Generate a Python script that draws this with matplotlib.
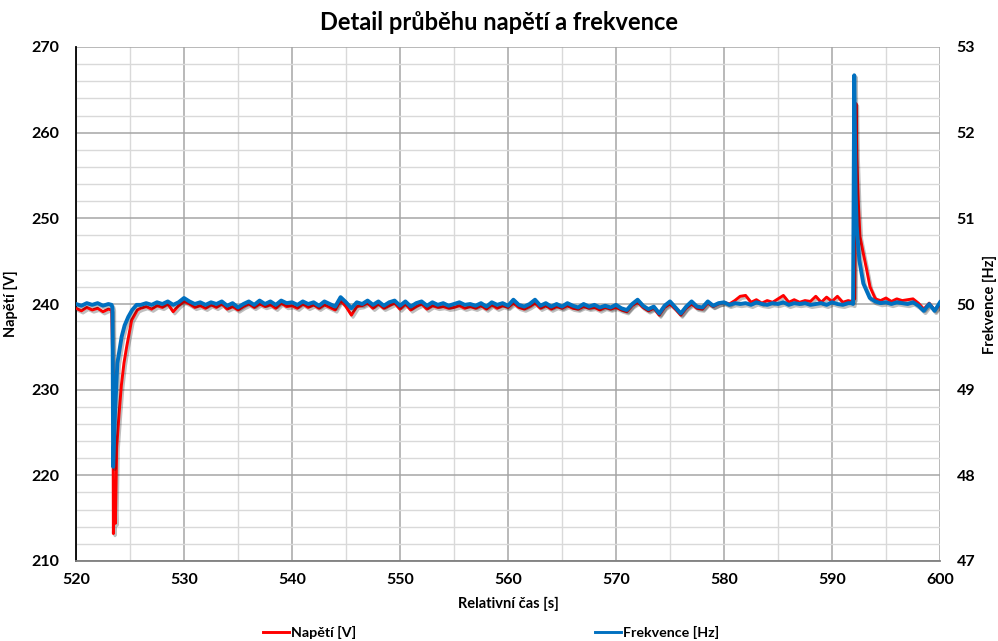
import numpy as np
import matplotlib
matplotlib.use("Agg")
import matplotlib.pyplot as plt
import matplotlib.patheffects as pe
from matplotlib.lines import Line2D
from matplotlib.ticker import MultipleLocator

plt.rcParams['font.family'] = ['Lato', 'DejaVu Sans']

# ---------------- data ----------------
# quiet stretch before the dip
t_pre = [520.0, 520.5, 521.0, 521.5, 522.0, 522.5, 523.0, 523.3]
napeti_pre = [239.5, 239.2, 239.6, 239.3, 239.5, 239.1, 239.4, 239.3]
frekvence_pre = [50.00, 49.98, 50.01, 49.99, 50.01, 49.98, 50.00, 49.99]

# voltage dip
t_napeti_dip = [523.42, 523.46, 523.55, 523.65, 523.77, 523.99, 524.2, 524.44, 524.69, 525.15, 525.68]
napeti_dip = [232.0, 213.2, 217.5, 214.4, 223.3, 227.2, 230.5, 233.1, 235.0, 238.1, 239.3]
# frequency dip
t_frekvence_dip = [523.38, 523.44, 523.61, 523.83, 524.23, 524.5, 524.84, 525.2, 525.61]
frekvence_dip = [49.95, 48.10, 48.72, 49.31, 49.62, 49.75, 49.85, 49.93, 49.99]

# steady part, sampled every 0.5 s from 526.0 to 591.5
t_mid = np.arange(526.0, 591.6, 0.5)
napeti_mid = [
    239.5, 239.7, 239.4, 239.8, 239.6, 240.0, 239.1, 239.8, 240.3, 240.0,
    239.6, 239.8, 239.5, 239.9, 239.6, 240.0, 239.4, 239.7, 239.3, 239.7,
    240.0, 239.6, 240.0, 239.7, 239.9, 239.5, 240.1, 239.7, 239.8, 239.5,
    240.0, 239.6, 239.9, 239.5, 239.9, 239.6, 239.3, 240.4, 239.7, 238.7,
    239.7, 239.8, 240.1, 239.5, 240.0, 239.5, 239.8, 240.1, 239.4, 240.0,
    239.3, 239.7, 240.0, 239.4, 239.8, 239.6, 239.7, 239.5, 239.6, 239.8,
    239.5, 239.7, 239.5, 239.8, 239.4, 239.9, 239.5, 239.8, 239.6, 240.1,
    239.6, 239.4, 239.7, 240.1, 239.5, 239.8, 239.4, 239.7, 239.5, 239.8,
    239.5, 239.4, 239.7, 239.5, 239.6, 239.3, 239.6, 239.4, 239.6, 239.3,
    239.1, 239.8, 240.2, 239.6, 239.2, 239.5, 238.7, 239.6, 240.0, 239.4,
    238.7, 239.5, 240.0, 239.5, 239.4, 240.1, 239.7, 240.0, 240.2, 240.0,
    240.4, 240.9, 241.0, 240.2, 240.5, 240.1, 240.4, 240.2, 240.6, 241.0,
    240.2, 240.5, 240.2, 240.4, 240.3, 240.9, 240.2, 240.8, 240.3, 240.9,
    240.2, 240.4,
]
frekvence_mid = [
    49.99, 50.01, 49.99, 50.02, 50.00, 50.03, 49.99, 50.02, 50.07, 50.03,
    50.00, 50.02, 49.99, 50.02, 50.00, 50.03, 49.98, 50.01, 49.96, 50.00,
    50.03, 49.99, 50.04, 50.00, 50.03, 49.99, 50.04, 50.01, 50.02, 49.99,
    50.03, 50.00, 50.02, 49.98, 50.03, 50.00, 49.97, 50.08, 50.02, 49.95,
    50.02, 50.00, 50.04, 49.99, 50.03, 49.98, 50.02, 50.04, 49.98, 50.03,
    49.97, 50.01, 50.03, 49.98, 50.02, 49.99, 50.01, 49.98, 50.00, 50.02,
    49.99, 50.00, 49.98, 50.01, 49.97, 50.02, 49.99, 50.01, 49.98, 50.05,
    49.99, 49.97, 50.00, 50.05, 49.98, 50.01, 49.97, 50.00, 49.97, 50.01,
    49.98, 49.96, 50.00, 49.97, 49.99, 49.96, 49.98, 49.96, 49.99, 49.95,
    49.93, 50.00, 50.05, 49.98, 49.94, 49.97, 49.89, 49.98, 50.03, 49.96,
    49.89, 49.97, 50.03, 49.97, 49.96, 50.03, 49.98, 50.01, 50.02, 49.99,
    50.01, 50.00, 50.01, 49.99, 50.02, 50.00, 49.99, 50.01, 50.00, 50.02,
    49.99, 50.01, 50.00, 50.01, 49.99, 50.00, 50.01, 49.99, 50.02, 50.00,
    49.99, 50.01,
]

# surge
t_napeti_spike = [591.8, 592.1, 592.22, 592.3, 592.43, 592.59, 592.9, 593.21, 593.52, 593.98]
napeti_spike = [240.3, 240.6, 263.4, 257.0, 252.1, 247.9, 245.9, 244.0, 242.0, 240.7]
t_frekvence_spike = [591.8, 591.95, 592.06, 592.19, 592.29, 592.53, 592.9, 593.5]
frekvence_spike = [50.01, 50.00, 52.67, 51.29, 50.90, 50.51, 50.24, 50.07]

# after the surge, every 0.5 s from 594.0 to 600.0
t_post = np.arange(594.0, 600.01, 0.5)
napeti_post = [240.6, 240.4, 240.7, 240.3, 240.6, 240.4, 240.5, 240.6, 240.1, 239.4, 240.1, 239.3, 239.9]
frekvence_post = [50.03, 50.01, 50.02, 50.00, 50.02, 50.01, 50.00, 50.02, 49.98, 49.92, 50.00, 49.92, 50.02]

t_napeti = np.concatenate([t_pre, t_napeti_dip, t_mid, t_napeti_spike, t_post])
napeti = np.concatenate([napeti_pre, napeti_dip, napeti_mid, napeti_spike, napeti_post])
t_frekvence = np.concatenate([t_pre, t_frekvence_dip, t_mid, t_frekvence_spike, t_post])
frekvence = np.concatenate([frekvence_pre, frekvence_dip, frekvence_mid, frekvence_spike, frekvence_post])

# ---------------- figure ----------------
W, H = 998, 641
fig = plt.figure(figsize=(W/100, H/100), dpi=100)
ax = fig.add_axes([76/W, 1 - 561/H, (940-76)/W, (561-47)/H])
ax2 = ax.twinx()

shadow = [pe.SimpleLineShadow(offset=(1.2, -1.6), shadow_color='black', alpha=0.25), pe.Normal()]

red = '#FF0000'
blue = '#0070C0'
ax.plot(t_napeti, napeti, color=red, lw=2.1, path_effects=shadow, zorder=3)
ax2.plot(t_frekvence, frekvence, color=blue, lw=2.8, path_effects=shadow, zorder=3)

ax.set_xlim(520, 600)
ax.set_ylim(210, 270)
ax2.set_ylim(47, 53)

ax.xaxis.set_major_locator(MultipleLocator(10))
ax.xaxis.set_minor_locator(MultipleLocator(5))
ax.yaxis.set_major_locator(MultipleLocator(10))
ax.yaxis.set_minor_locator(MultipleLocator(2))
ax2.yaxis.set_major_locator(MultipleLocator(1))

ax.grid(which='major', color='#A6A6A6', lw=1.1, zorder=0)
ax.grid(which='minor', color='#D9D9D9', lw=1.0, zorder=0)
ax.set_axisbelow(True)

for s in ['top', 'right']:
    ax.spines[s].set_visible(False)
for s in ['top', 'right', 'left', 'bottom']:
    ax2.spines[s].set_visible(False)
ax.spines['left'].set_color('black')
ax.spines['left'].set_linewidth(1.3)
ax.spines['bottom'].set_color('#7F7F7F')
ax.spines['bottom'].set_linewidth(1.3)

ax.tick_params(which='both', length=0)
ax2.tick_params(which='both', length=0)
ax.tick_params(axis='x', pad=9)
ax.tick_params(axis='y', pad=12)
ax2.tick_params(axis='y', pad=12)
for lab in ax.get_xticklabels() + ax.get_yticklabels() + ax2.get_yticklabels():
    lab.set_fontweight('bold')
    lab.set_fontsize(11.5)

ax.set_xlabel('Relativní čas [s]', fontsize=10.5, fontweight='bold', labelpad=7)
ax.set_ylabel('Napětí [V]', fontsize=10.5, fontweight='bold')
ax2.set_ylabel('Frekvence [Hz]', fontsize=10.5, fontweight='bold', rotation=90)
ax.yaxis.set_label_coords((18 - 76) / (940 - 76), 0.5)
ax2.yaxis.set_label_coords((983 - 76) / (940 - 76), 0.5)

fig.text(0.5, 1 - 22/H, 'Detail průběhu napětí a frekvence', ha='center', va='center',
         fontsize=17, fontweight='bold')

h1 = Line2D([], [], color=red, lw=2.1)
h2 = Line2D([], [], color=blue, lw=2.1)
fig.legend(handles=[h1], labels=['Napětí [V]'], loc='center left',
           bbox_to_anchor=(250/W, 1 - 632/H), frameon=False,
           handlelength=1.8, handletextpad=0.2,
           prop={'weight': 'bold', 'size': 10.3})
fig.legend(handles=[h2], labels=['Frekvence [Hz]'], loc='center left',
           bbox_to_anchor=(582/W, 1 - 632/H), frameon=False,
           handlelength=1.8, handletextpad=0.2,
           prop={'weight': 'bold', 'size': 10.3})

fig.savefig('out.png', dpi=100)
